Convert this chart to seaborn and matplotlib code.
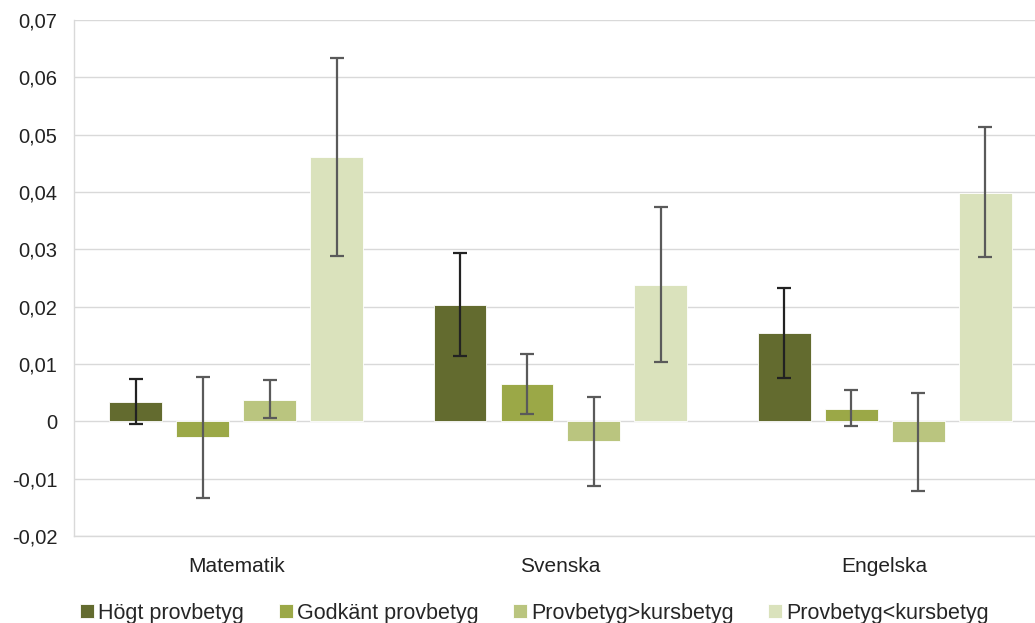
import matplotlib
matplotlib.use("Agg")
import matplotlib.pyplot as plt
import seaborn as sns
import pandas as pd
import numpy as np
from matplotlib.ticker import FuncFormatter

subjects = ["Matematik", "Svenska", "Engelska"]
series = ["Högt provbetyg", "Godkänt provbetyg", "Provbetyg>kursbetyg", "Provbetyg<kursbetyg"]
values = {
    "Högt provbetyg":      [0.0034, 0.0203, 0.0154],
    "Godkänt provbetyg":   [-0.0027, 0.0065, 0.0022],
    "Provbetyg>kursbetyg": [0.0038, -0.0034, -0.0036],
    "Provbetyg<kursbetyg": [0.0461, 0.0238, 0.0399],
}
err_low = {
    "Högt provbetyg":      [-0.0005, 0.0114, 0.0076],
    "Godkänt provbetyg":   [-0.0133, 0.0012, -0.0008],
    "Provbetyg>kursbetyg": [0.0006, -0.0113, -0.0122],
    "Provbetyg<kursbetyg": [0.0289, 0.0104, 0.0287],
}
err_high = {
    "Högt provbetyg":      [0.0073, 0.0294, 0.0233],
    "Godkänt provbetyg":   [0.0077, 0.0118, 0.0054],
    "Provbetyg>kursbetyg": [0.0072, 0.0043, 0.0050],
    "Provbetyg<kursbetyg": [0.0634, 0.0374, 0.0514],
}
colors = ["#636B2F", "#9BA847", "#BAC57F", "#DAE2BC"]
err_colors = ["#222222", "#5a5a5a", "#5a5a5a", "#5a5a5a"]

rows = []
for s in series:
    for i, subj in enumerate(subjects):
        rows.append({"subject": subj, "series": s, "value": values[s][i]})
df = pd.DataFrame(rows)

sns.set_theme(style="white")
plt.rcParams["font.family"] = ["Liberation Sans", "DejaVu Sans"]

fig = plt.figure(figsize=(10.35, 6.23), dpi=100)
ax = fig.add_axes([74/1035, 87/623, 1 - 74/1035, (536 - 20)/623])

sns.barplot(data=df, x="subject", y="value", hue="series", order=subjects,
            hue_order=series, palette=colors, width=0.826, gap=0.21,
            errorbar=None, ax=ax, saturation=1, edgecolor="white", linewidth=0.6,
            legend=True)

for k, s in enumerate(series):
    cont = ax.containers[k]
    for i, p in enumerate(cont):
        xc = p.get_x() + p.get_width() / 2
        v = values[s][i]
        lo = err_low[s][i]
        hi = err_high[s][i]
        ax.errorbar([xc], [v], yerr=[[v - lo], [hi - v]], fmt="none",
                    ecolor=err_colors[k], elinewidth=1.6, capsize=5, capthick=1.6, zorder=5)

ax.set_ylim(-0.02, 0.07)
ax.set_yticks(np.arange(-0.02, 0.0701, 0.01))
ax.yaxis.set_major_formatter(FuncFormatter(
    lambda v, p: "0" if abs(v) < 1e-9 else f"{v:.2f}".replace(".", ",")))
ax.set_xlim(-0.5, -0.5 + 961/324.3)
ax.grid(axis="y", color="#D9D9D9", linewidth=1.0)
ax.set_axisbelow(True)
for side in ["top", "right"]:
    ax.spines[side].set_visible(False)
for side in ["left", "bottom"]:
    ax.spines[side].set_color("#D9D9D9")
    ax.spines[side].set_linewidth(1.0)
ax.tick_params(axis="y", length=0, labelsize=14.5, labelcolor="#222222", pad=12)
ax.tick_params(axis="x", length=0, labelsize=15, labelcolor="#222222", pad=15)
ax.set_xlabel("")
ax.set_ylabel("")

handles, labels = ax.get_legend_handles_labels()
ax.legend_.remove()
fig.legend(handles, labels, loc="center left", bbox_to_anchor=(80/1035, (623 - 613)/623),
           ncol=4, frameon=False, fontsize=15.5, handlelength=0.65, handleheight=0.65,
           handletextpad=0.2, columnspacing=1.6, borderaxespad=0, borderpad=0)

fig.savefig("out.png", dpi=100)
